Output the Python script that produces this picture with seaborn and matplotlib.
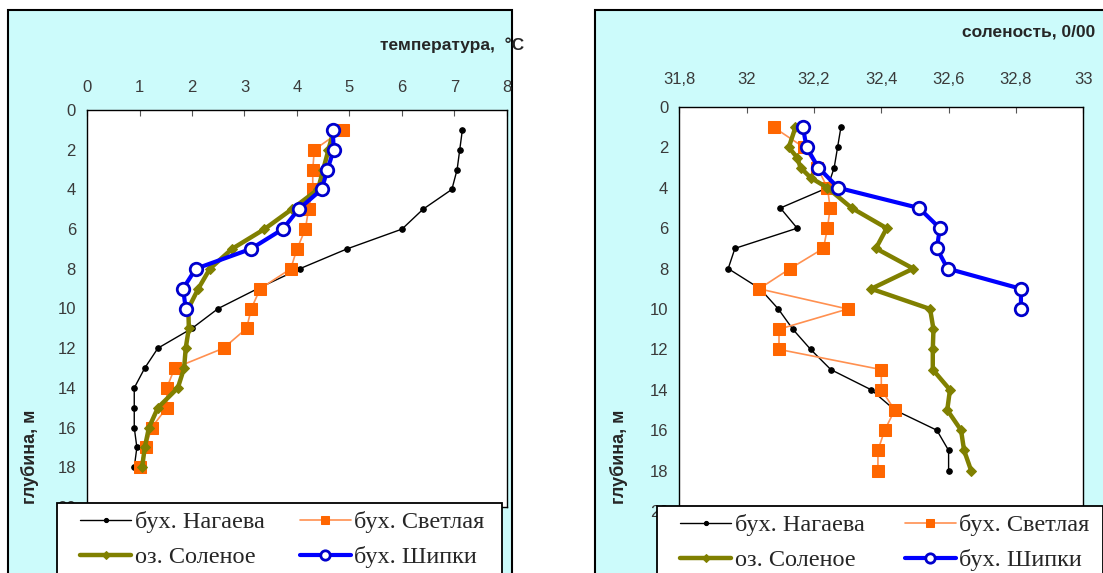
import numpy as np
import seaborn as sns
import matplotlib.pyplot as plt
from matplotlib.patches import Rectangle

sns.set_style("white")
plt.rcParams['font.family'] = ['Liberation Sans', 'DejaVu Sans']

# depths (m)
depth_1m = list(range(1, 19))
depth_ship = list(range(1, 11))
depth_sol_s = [1, 2, 2.5, 3, 3.5, 4] + list(range(5, 19))

# temperature, C
temp_nag = [7.15, 7.1, 7.05, 6.95, 6.4, 6.0, 4.95, 4.05, 3.25, 2.5, 2.0, 1.35, 1.1, 0.9, 0.9, 0.9, 0.95, 0.9]
temp_svet = [4.87, 4.33, 4.3, 4.3, 4.22, 4.16, 4.0, 3.88, 3.3, 3.13, 3.04, 2.6, 1.67, 1.52, 1.52, 1.23, 1.12, 1.0]
temp_sol = [4.7, 4.6, 4.5, 4.4, 3.9, 3.38, 2.76, 2.34, 2.12, 1.93, 1.94, 1.88, 1.85, 1.73, 1.35, 1.18, 1.1, 1.05]
temp_ship = [4.68, 4.7, 4.58, 4.47, 4.03, 3.73, 3.12, 2.07, 1.83, 1.88]

# salinity, 0/00
sal_nag = [32.28, 32.27, 32.26, 32.24, 32.10, 32.15, 31.965, 31.945, 32.04, 32.094, 32.137, 32.19, 32.25, 32.37, 32.44, 32.565, 32.6, 32.6]
sal_svet = [32.08, 32.17, 32.21, 32.24, 32.248, 32.24, 32.228, 32.129, 32.037, 32.3, 32.096, 32.096, 32.4, 32.4, 32.44, 32.41, 32.39, 32.39]
sal_sol = [32.145, 32.125, 32.15, 32.16, 32.19, 32.24, 32.312, 32.416, 32.384, 32.495, 32.37, 32.545, 32.555, 32.553,
           32.553, 32.604, 32.596, 32.637, 32.646, 32.667]
sal_ship = [32.167, 32.178, 32.213, 32.272, 32.512, 32.574, 32.565, 32.597, 32.815, 32.815]

labels = ["бух. Нагаева", "бух. Светлая", "оз. Соленое", "бух. Шипки"]
temp_ticks = [0, 1, 2, 3, 4, 5, 6, 7, 8]
sal_ticks = [31.8, 32.0, 32.2, 32.4, 32.6, 32.8, 33.0]
sal_ticklabels = ["31,8", "32", "32,2", "32,4", "32,6", "32,8", "33"]
depth_ticks = list(range(0, 21, 2))

W, H = 1103, 573
fig = plt.figure(figsize=(W / 100, H / 100), dpi=100)
fig.patch.set_facecolor("white")

cyan = "#CCFBFB"
# panel backgrounds (behind the axes)
fig.patches.append(Rectangle((8 / W, -0.05), (512 - 8) / W, 1.05 - 10 / H, transform=fig.transFigure,
                             facecolor=cyan, edgecolor="black", lw=1.5, zorder=-2))
fig.patches.append(Rectangle((595 / W, -0.05), (1110 - 595) / W, 1.05 - 10 / H, transform=fig.transFigure,
                             facecolor=cyan, edgecolor="black", lw=1.5, zorder=-2))

ax1 = fig.add_axes([87 / W, 1 - 507 / H, 420 / W, 397 / H])
ax2 = fig.add_axes([679.4 / W, 1 - 511 / H, 403.8 / W, 404 / H])

styles = [
    dict(color="black", lw=1.0, marker="o", markersize=4, markerfacecolor="black", markeredgecolor="black"),
    dict(color="#FF9050", lw=1.2, marker="s", markersize=8.5, markerfacecolor="#FF6600", markeredgecolor="#FF6600"),
    dict(color="#808000", lw=3.2, marker="D", markersize=5, markerfacecolor="#808000", markeredgecolor="#808000"),
    dict(color="#0000FF", lw=3.0, marker="o", markersize=9, markerfacecolor="white", markeredgecolor="#0000CC",
         markeredgewidth=2),
]


def draw(ax, series):
    for (x, y), lab, st in zip(series, labels, styles):
        sns.lineplot(x=x, y=y, ax=ax, sort=False, estimator=None, legend=False, label=lab, **st)


draw(ax1, [(temp_nag, depth_1m), (temp_svet, depth_1m), (temp_sol, depth_1m), (temp_ship, depth_ship)])
draw(ax2, [(sal_nag, depth_1m), (sal_svet, depth_1m), (sal_sol, depth_sol_s), (sal_ship, depth_ship)])

for ax, xpad in ((ax1, 11), (ax2, 14.5)):
    ax.set_facecolor("white")
    ax.set_ylim(20, 0)
    ax.set_yticks(depth_ticks)
    ax.xaxis.tick_top()
    ax.tick_params(direction="in", length=4, width=0.8, colors="#555555", labelcolor="#3a3a3a", labelsize=12)
    ax.tick_params(axis="x", pad=xpad)
    ax.tick_params(axis="y", pad=8)
    ax.set_xlabel("")
    ax.set_ylabel("")
    for s in ax.spines.values():
        s.set_color("black")
        s.set_linewidth(1.0)
    if ax.get_legend():
        ax.get_legend().remove()

ax1.set_xlim(0, 8)
ax1.set_xticks(temp_ticks)
ax2.set_xlim(31.8, 33.0)
ax2.set_xticks(sal_ticks)
ax2.set_xticklabels(sal_ticklabels)

fig.text(524 / W, 1 - 45 / H, "температура,  °C", ha="right", va="center", fontsize=12.5, fontweight="bold")
fig.text(1095 / W, 1 - 32 / H, "соленость, 0/00", ha="right", va="center", fontsize=12.5, fontweight="bold")
fig.text(30 / W, 1 - 457 / H, "глубина, м", rotation=90, ha="center", va="center", fontsize=13, fontweight="bold")
fig.text(619 / W, 1 - 457 / H, "глубина, м", rotation=90, ha="center", va="center", fontsize=13, fontweight="bold")

# legends: frameless text block + separate frame rectangle
order = [0, 2, 1, 3]
for ax, bx, by, tx, ty, colsp in ((ax1, 57, 503, 80, 511, 1.45), (ax2, 657, 506, 680, 514, 1.65)):
    fig.patches.append(Rectangle((bx / W, -0.05), 1 - bx / W if ax is ax2 else (502 - bx) / W,
                                 1.05 - by / H, transform=fig.transFigure,
                                 facecolor="white", edgecolor="black", lw=1.3, zorder=5))
    h = ax.get_lines()
    hs = [h[i] for i in order]
    ls = [labels[i] for i in order]
    leg = fig.legend(hs, ls, ncol=2, loc="upper left", bbox_to_anchor=(tx / W, 1 - ty / H),
                     frameon=False, prop={"family": "Liberation Serif", "size": 17.5}, handlelength=2.1,
                     handletextpad=0.15, columnspacing=colsp, borderpad=0, labelspacing=0.55,
                     borderaxespad=0, markerscale=0.75)
    leg.set_zorder(10)

fig.savefig("out.png", dpi=100)
